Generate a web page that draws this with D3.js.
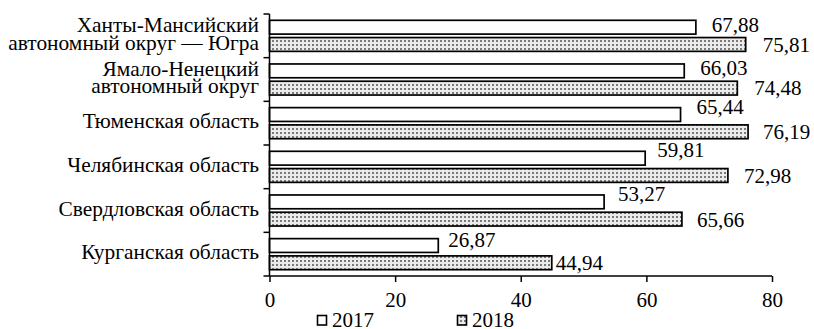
<!DOCTYPE html>
<html><head><meta charset="utf-8">
<script src="https://cdn.jsdelivr.net/npm/d3@7"></script>
<style>body{margin:0;background:#fff}svg{display:block}</style>
</head><body><div id="chart"></div>
<script>
const FONT = "Liberation Serif";
const categories = [
  ["Ханты-Мансийский", "автономный округ — Югра"],
  ["Ямало-Ненецкий", "автономный округ"],
  ["Тюменская область"],
  ["Челябинская область"],
  ["Свердловская область"],
  ["Курганская область"]
];
const series = ["2017", "2018"];
const values2017 = [67.88, 66.03, 65.44, 59.81, 53.27, 26.87];
const values2018 = [75.81, 74.48, 76.19, 72.98, 65.66, 44.94];
const xTicks = [0, 20, 40, 60, 80];
// label nudges (gap after bar end and vertical shift, px)
const gap2017 = [16, 16, 16, 12, 14, 10];
const gap2018 = [17, 17, 15, 16, 15, 4];
const shift2017 = [-2, -3.4, -7.8, -8.2, -8, -5.8];
const shift2018 = [0.8, -0.7, 0, 0, 0.8, 0];

const W = 814, H = 329;
const svg = d3.select("#chart").append("svg").attr("width", W).attr("height", H);
const defs = svg.append("defs");
const pat = defs.append("pattern").attr("id","dots").attr("patternUnits","userSpaceOnUse").attr("width",4).attr("height",4);
pat.append("rect").attr("width",4).attr("height",4).attr("fill","#ebebeb");
pat.append("rect").attr("x",0).attr("y",0).attr("width",2).attr("height",2).attr("fill","#7a7a7a");

const x = d3.scaleLinear().domain([0, 80]).range([269.5, 772]);
const keys = categories.map((c, i) => i);
const y0 = d3.scaleBand().domain(keys).range([14, 276]).padding(0);
const y1 = d3.scaleBand().domain(series).range([6.3, y0.bandwidth() - 6.3]).paddingInner(0.2);

const fmt = v => d3.format(".2f")(v).replace(".", ",");
const data = [];
keys.forEach(i => {
  data.push({i, s: "2017", v: values2017[i], gap: gap2017[i], sh: shift2017[i]});
  data.push({i, s: "2018", v: values2018[i], gap: gap2018[i], sh: shift2018[i]});
});

svg.append("g").selectAll("rect").data(data).join("rect")
  .attr("x", x(0))
  .attr("y", d => y0(d.i) + y1(d.s))
  .attr("width", d => x(d.v) - x(0))
  .attr("height", y1.bandwidth())
  .attr("fill", d => d.s === "2017" ? "#fff" : "url(#dots)")
  .attr("stroke", "#000").attr("stroke-width", 1.7);

svg.append("g").selectAll("text").data(data).join("text")
  .attr("x", d => x(d.v) + d.gap)
  .attr("y", d => y0(d.i) + y1(d.s) + y1.bandwidth() / 2 + d.sh)
  .attr("dy", "0.34em")
  .attr("font-size", 21).attr("font-family", FONT).attr("fill", "#000")
  .text(d => fmt(d.v));

// axes
const xAxis = svg.append("g").attr("transform", "translate(0,276)")
  .call(d3.axisBottom(x).tickValues(xTicks).tickSize(6).tickPadding(10.4).tickFormat(d3.format("d")));
xAxis.attr("font-family", FONT).attr("font-size", 21);
xAxis.selectAll("text").attr("fill", "#000");
xAxis.selectAll("line,path").attr("stroke", "#000").attr("stroke-width", 1.5);
xAxis.select(".domain").attr("d", "M269.5,0H772");

const yAx = svg.append("g").attr("transform", "translate(269.5,0)");
yAx.append("line").attr("x1",0).attr("x2",0).attr("y1",14).attr("y2",276).attr("stroke","#000").attr("stroke-width",1.5);
const bounds = keys.map(k => y0(k)).concat([276]);
yAx.selectAll("line.t").data(bounds).join("line").attr("class","t")
  .attr("x1",-6).attr("x2",0).attr("y1",d=>d).attr("y2",d=>d).attr("stroke","#000").attr("stroke-width",1.5);

const catG = svg.append("g");
categories.forEach((lines, i) => {
  const cy = y0(i) + y0.bandwidth() / 2 - 2.4;
  const lh = 17.6;
  lines.forEach((ln, j) => {
    catG.append("text").attr("text-anchor","end").attr("font-size",21.4).attr("font-family", FONT).attr("fill","#000")
      .attr("x", 259).attr("y", cy + (j - (lines.length - 1) / 2) * lh).attr("dy","0.35em").text(ln);
  });
});

// legend
const leg = svg.append("g");
[["2017","#fff",317],["2018","url(#dots)",457]].forEach(([s, f, lx]) => {
  leg.append("rect").attr("x", lx + 0.5).attr("y", 315.5).attr("width", 9).attr("height", 9.5).attr("fill", f).attr("stroke","#000").attr("stroke-width",1.6);
  leg.append("text").attr("x", lx + 15).attr("y", 327).attr("font-size",21).attr("font-family", FONT).attr("fill","#000").text(s);
});
</script></body></html>
